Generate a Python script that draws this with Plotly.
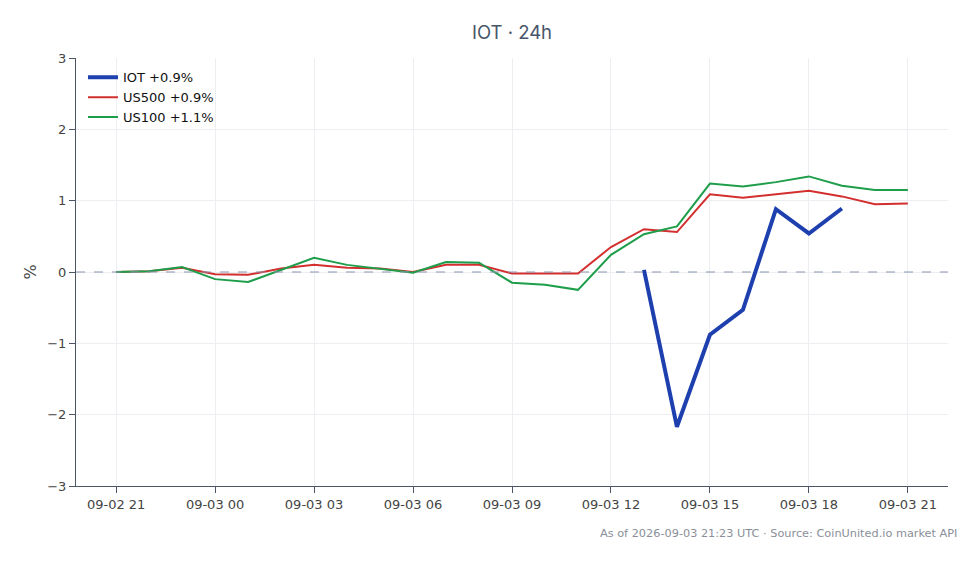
import pandas as pd
import plotly.graph_objects as go

# hourly timestamps, 09-02 21:00 -> 09-03 21:00 UTC
hours = pd.date_range("2026-09-02 21:00", "2026-09-03 21:00", freq="h")

us500 = [0.0, 0.01, 0.06, -0.03, -0.04, 0.05, 0.1, 0.06, 0.05, 0.0, 0.1, 0.1, -0.02,
         -0.02, -0.02, 0.35, 0.6, 0.56, 1.09, 1.04, 1.09, 1.14, 1.06, 0.95, 0.96]
us100 = [0.0, 0.01, 0.07, -0.1, -0.14, 0.03, 0.2, 0.1, 0.05, -0.01, 0.14, 0.13, -0.15,
         -0.18, -0.25, 0.24, 0.53, 0.64, 1.24, 1.2, 1.26, 1.34, 1.21, 1.15, 1.15]
# IOT only has data from 13:00 to 19:00
iot_hours = hours[16:23]
iot = [0.03, -2.17, -0.88, -0.53, 0.88, 0.54, 0.89]

tick_labels = ["09-02 21", "09-03 00", "09-03 03", "09-03 06", "09-03 09",
               "09-03 12", "09-03 15", "09-03 18", "09-03 21"]
tick_vals = hours[::3]

fig = go.Figure()
fig.add_trace(go.Scatter(x=iot_hours, y=iot, mode="lines", name="IOT +0.9%",
                         line=dict(color="#1e40af", width=4)))
fig.add_trace(go.Scatter(x=hours, y=us500, mode="lines", name="US500 +0.9%",
                         line=dict(color="#d32f2f", width=2)))
fig.add_trace(go.Scatter(x=hours, y=us100, mode="lines", name="US100 +1.1%",
                         line=dict(color="#1e9e4a", width=2)))

fig.add_hline(y=0, line=dict(color="#8a94b0", width=1, dash="dash"))

pad = pd.Timedelta(minutes=73)
fig.update_layout(
    width=980, height=564,
    margin=dict(l=68, r=40, t=50, b=86),
    paper_bgcolor="white", plot_bgcolor="white",
    font=dict(family="DejaVu Sans", size=13, color="#444"),
    title=dict(text="IOT · 24h", x=0.5, xref="paper", y=0.968, yref="container",
               font=dict(family="Inter", size=18.5, color="#475569")),
    legend=dict(x=0.008, y=0.99, xanchor="left", yanchor="top",
                bgcolor="rgba(255,255,255,0)", font=dict(size=13, color="#111")),
    xaxis=dict(range=[hours[0] - pad, hours[-1] + pad], tickvals=tick_vals,
               ticktext=tick_labels, showline=True, linecolor="#4b5563", linewidth=1,
               ticks="outside", tickcolor="#4b5563", ticklen=6,
               gridcolor="#eceef2", zeroline=False),
    yaxis=dict(range=[-3, 3], dtick=1, title=dict(text="%", standoff=6),
               showline=True, linecolor="#4b5563", linewidth=1,
               ticks="outside", tickcolor="#4b5563", ticklen=6,
               gridcolor="#eceef2", zeroline=False),
)

fig.add_annotation(text="As of 2026-09-03 21:23 UTC · Source: CoinUnited.io market API",
                   xref="paper", yref="paper", x=1.0125, y=-0.112, xanchor="right",
                   yanchor="middle", showarrow=False,
                   font=dict(size=11.3, color="#8a8f99"))

fig.write_html("out.html")
